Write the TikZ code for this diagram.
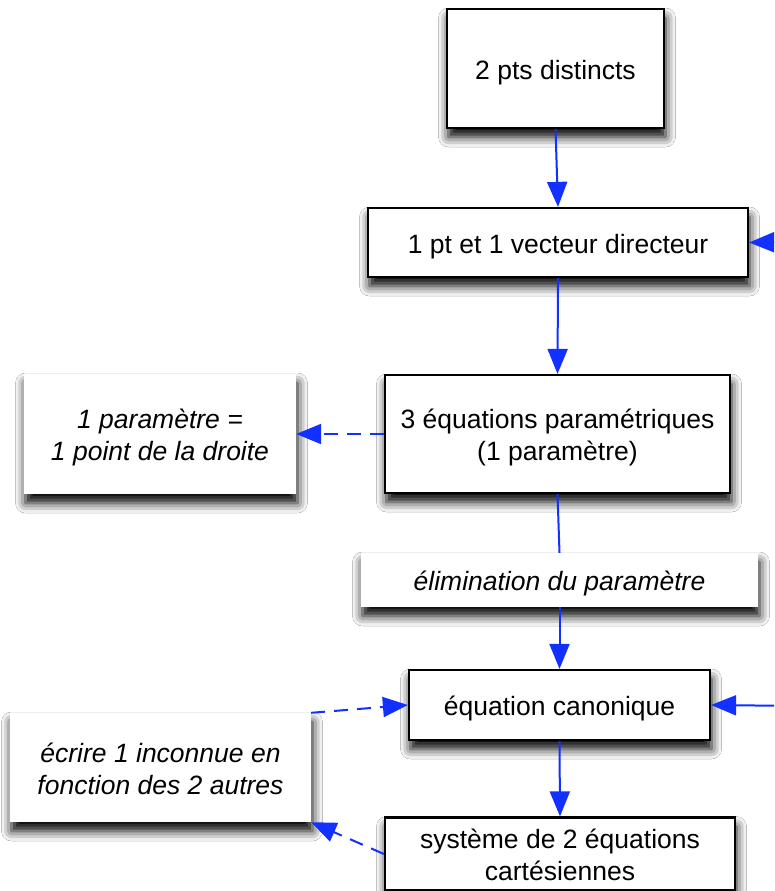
\documentclass[tikz,border=0pt]{standalone}
\usepackage{fontspec}
\setmainfont{Liberation Sans}
\usetikzlibrary{arrows.meta,shadows.blur}
\definecolor{arrblue}{RGB}{18,48,255}
\newcommand{\mlbl}[1]{\raisebox{0pt}[\dimexpr\height+9pt\relax][\depth]{\begin{tabular}{@{}c@{}}#1\end{tabular}}}
\begin{document}
\begin{tikzpicture}[x=1pt,y=-1pt,
  every node/.style={font=\fontsize{26.5}{32}\selectfont, align=center, inner sep=0pt, fill=white,
    blur shadow={shadow xshift=1.5pt, shadow yshift=-9pt, shadow blur radius=10pt, shadow opacity=100}},
  box/.style={draw=black, line width=2.2pt},
  note/.style={font=\fontsize{26.5}{32}\selectfont\itshape},
  conn/.style={draw=arrblue, line width=2pt, -{Triangle[length=25pt,width=20pt]}},
  plain/.style={draw=arrblue, line width=2pt},
  dashconn/.style={conn, dash pattern=on 14pt off 9pt}]
\fill[white] (0,0) rectangle (774,891);
\useasboundingbox (0,0) rectangle (774,891);
\clip (0,0) rectangle (774,891);
\node[box, minimum width=217pt, minimum height=119pt] (A) at (555.5,68.5) {\mlbl{2 pts distincts}};
\node[box, minimum width=380pt, minimum height=69pt] (B) at (558,242.5) {\mlbl{1 pt et 1 vecteur directeur}};
\node[box, minimum width=345pt, minimum height=118pt] (C) at (557.5,434) {\mlbl{3 équations paramétriques\\(1 paramètre)}};
\node[note, minimum width=272pt, minimum height=120pt] (D) at (160,434) {\mlbl{1 paramètre =\\1 point de la droite}};
\node[note, minimum width=397pt, minimum height=54pt] (E) at (559.5,580) {\mlbl{élimination du paramètre}};
\node[box, minimum width=301pt, minimum height=70pt] (F) at (559.5,705) {\mlbl{équation canonique}};
\node[note, minimum width=301pt, minimum height=109pt] (G) at (160.5,767.5) {\mlbl{écrire 1 inconnue en\\fonction des 2 autres}};
\node[box, minimum width=350pt, minimum height=68pt] (H) at (560,854) {\mlbl{système de 2 équations\\cartésiennes}};
\coordinate (r1) at (800,242);
\coordinate (r2) at (800,706);
\draw[conn] (A.south) -- (B.north);
\draw[conn] (B.south) -- (C.north);
\draw[plain] (C.south) -- (E.north);
\draw[conn] (E.south) -- (F.north);
\draw[dashconn] (C.west) -- (D.east);
\draw[conn] (r1) -- (B.east);
\draw[conn] (r2) -- (F.east);
\draw[dashconn] (G.north east) -- (F.west);
\draw[dashconn] (H.west) -- (G.south east);
\draw[conn] (F.south) -- (H.north);
\end{tikzpicture}
\end{document}
